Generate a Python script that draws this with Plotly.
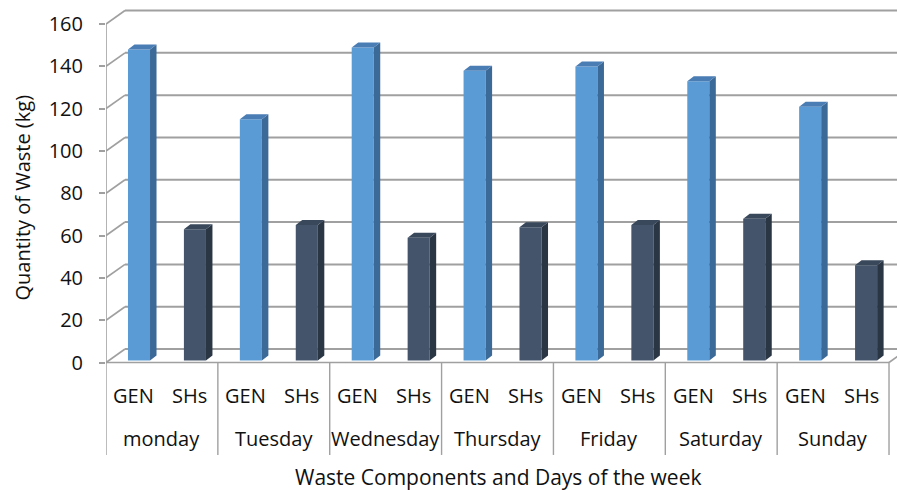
import plotly.graph_objects as go

days = ["monday", "Tuesday", "Wednesday", "Thursday", "Friday", "Saturday", "Sunday"]
components = ["GEN", "SHs"]
gen_values = [147, 114, 148, 137, 139, 132, 120]
shs_values = [62, 64, 58, 63, 64, 67, 45]
y_ticks = [0, 20, 40, 60, 80, 100, 120, 140, 160]

# geometry (data units)
PX_X = 111.86          # px per category group
PX_Y = 2.1156          # px per kg
WALL_DX = 19 / PX_X
WALL_DY = 13.5 / PX_Y
BAR_DX = 6.5 / PX_X
BAR_DY = 5 / PX_Y
BAR_BASE = 2 / PX_Y
BAR_W = 0.197
OFFSETS = [0.295, 0.795]

FONT = "'Open Sans', Lato, sans-serif"
GRID = "#A0A0A0"
TXT = "#111"

series = [
    (components[0], gen_values, "#5B9BD5", "#3C6A98", "#4B7DB5"),
    (components[1], shs_values, "#44546A", "#2B3645", "#3A485C"),
]

fig = go.Figure()

# back wall + side wall gridlines
for v in y_ticks:
    fig.add_shape(type="line", x0=0, y0=v, x1=WALL_DX, y1=v + WALL_DY,
                  line=dict(color=GRID, width=1.7), layer="below")
    fig.add_shape(type="line", x0=WALL_DX, y0=v + WALL_DY, x1=7.5, y1=v + WALL_DY,
                  line=dict(color=GRID, width=2), layer="below")
# front axis line and floor front edge
fig.add_shape(type="line", x0=0, y0=0, x1=0, y1=160, line=dict(color=GRID, width=1.6))
fig.add_shape(type="line", x0=0, y0=0, x1=len(days), y1=0, line=dict(color=GRID, width=1.6))
fig.add_shape(type="line", x0=len(days), y0=0, x1=len(days) + WALL_DX, y1=WALL_DY,
              line=dict(color=GRID, width=1.6))
# category dividers
for i in range(len(days) + 1):
    fig.add_shape(type="line", x0=i, y0=0, x1=i, y1=-43.7, line=dict(color=GRID, width=1.4))

for k, (name, vals, c_front, c_side, c_top) in enumerate(series):
    xs = [i + OFFSETS[k] for i in range(len(days))]
    fig.add_trace(go.Bar(x=xs, y=vals, base=[BAR_BASE] * len(vals), width=BAR_W,
                         marker=dict(color=c_front, line=dict(width=0)), name=name,
                         showlegend=False))
    sx, sy, tx, ty = [], [], [], []
    for x, v in zip(xs, vals):
        xl, xr = x - BAR_W / 2, x + BAR_W / 2
        top = BAR_BASE + v
        sx += [xr, xr + BAR_DX, xr + BAR_DX, xr, xr, None]
        sy += [BAR_BASE, BAR_BASE + BAR_DY, top + BAR_DY, top, BAR_BASE, None]
        tx += [xl, xr, xr + BAR_DX, xl + BAR_DX, xl, None]
        ty += [top, top, top + BAR_DY, top + BAR_DY, top, None]
    fig.add_trace(go.Scatter(x=sx, y=sy, fill="toself", fillcolor=c_side, mode="lines",
                             line=dict(width=0, color=c_side), showlegend=False, hoverinfo="skip"))
    fig.add_trace(go.Scatter(x=tx, y=ty, fill="toself", fillcolor=c_top, mode="lines",
                             line=dict(width=0, color=c_top), showlegend=False, hoverinfo="skip"))

ann = []
for i, d in enumerate(days):
    for k, c in enumerate(components):
        ann.append(dict(x=i + 0.25 + 0.5 * k, y=-15.4, text=c, showarrow=False,
                        font=dict(family=FONT, size=20, color=TXT), xanchor="center", yanchor="middle"))
    ann.append(dict(x=i + 0.5, y=-35.7, text=d, showarrow=False,
                    font=dict(family=FONT, size=20, color=TXT), xanchor="center", yanchor="middle"))
ann.append(dict(x=3.5, y=-53.9, text="Waste Components and Days of the week", showarrow=False,
                font=dict(family=FONT, size=21, color=TXT), xanchor="center", yanchor="middle"))
ann.append(dict(xref="paper", x=0, xshift=-84, y=78, text="Quantity of Waste (kg)", showarrow=False,
                textangle=-90, font=dict(family=FONT, size=20, color=TXT),
                xanchor="center", yanchor="middle"))

fig.update_layout(
    width=897, height=490,
    margin=dict(l=106, r=0, t=0, b=0),
    plot_bgcolor="white", paper_bgcolor="white",
    barmode="overlay",
    annotations=ann,
    xaxis=dict(range=[0, (897 - 106) / PX_X], visible=False, fixedrange=True),
    yaxis=dict(range=[-127.5 / PX_Y, 362.5 / PX_Y], tickvals=y_ticks, ticks="outside",
               ticklen=6, tickcolor=GRID, tickwidth=1.5, showgrid=False, zeroline=False,
               showline=False, ticklabelstandoff=12,
               tickfont=dict(family=FONT, size=20, color=TXT), fixedrange=True),
)

fig.write_html("out.html", config={"displayModeBar": False},
               post_script="document.body.style.margin='0';document.body.style.overflow='hidden';")
